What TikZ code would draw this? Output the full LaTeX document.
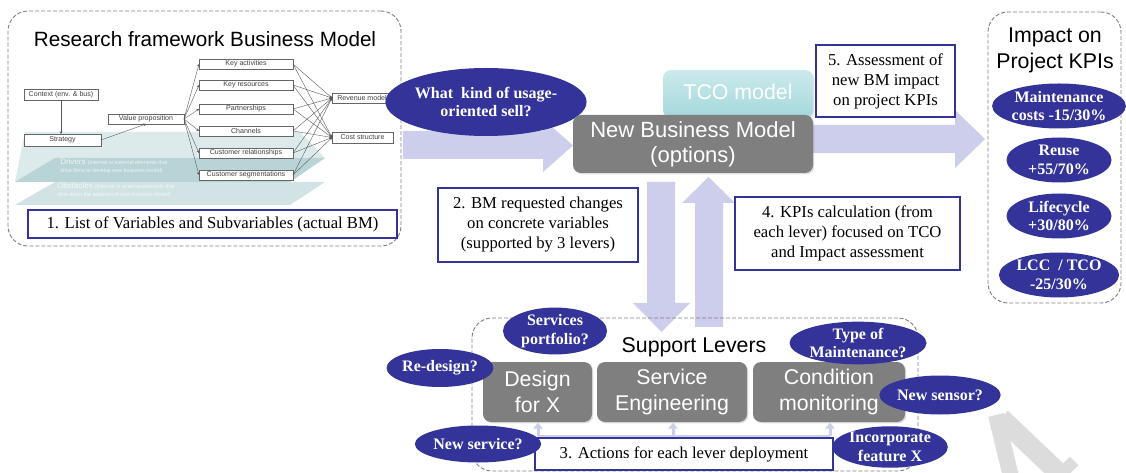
\documentclass[tikz,border=0pt]{standalone}
\usepackage{fontspec}
\setmainfont{Liberation Serif}
\setsansfont{Liberation Sans}
\usetikzlibrary{shapes.geometric,fit,arrows.meta,shadows}
\newdimen\pxu \pxu=0.75pt
\definecolor{navy}{HTML}{333399}
\definecolor{lav}{HTML}{CDCDEC}
\definecolor{gboxc}{HTML}{7F7F7F}
\definecolor{teal1}{HTML}{A3D8DB}
\definecolor{planec}{HTML}{8DB9BC}
\definecolor{wm}{HTML}{DCDCDC}
\begin{document}
\begin{tikzpicture}[x=0.75pt,y=-0.75pt,
 fitbox/.style={inner sep=0pt, outer sep=0pt},
 sz/.style 2 args={inner sep=0pt, outer sep=0pt, minimum width=#1\pxu, minimum height=#2\pxu},
 dframe/.style={fitbox, draw=gray, dash pattern=on 3pt off 1.5pt, line width=0.7pt, rounded corners=15pt},
 txtbox/.style={draw=navy, line width=1pt, fill=white, align=center, font=\fontsize{12.5}{15}\selectfont},
 graybox/.style={fill=gboxc, rounded corners=6pt, text=white, align=center, font=\sffamily\fontsize{16}{20}\selectfont, drop shadow={opacity=0.25, shadow xshift=1pt, shadow yshift=-1pt}},
 q/.style={ellipse, fill=navy, text=white, inner sep=0pt, align=center, font=\bfseries\fontsize{12}{14}\selectfont},
 bm/.style={draw=black!60, line width=0.35pt, fill=white, text=black!75, font=\sffamily\fontsize{5.3}{6}\selectfont},
 bmline/.style={draw=black!65, line width=0.3pt, -{Stealth[length=2pt,width=2pt]}},
 bigarrow/.style={fill=lav},
 ttl/.style={font=\sffamily\fontsize{16}{19.5}\selectfont, align=center, text=black},
 plnote/.style={anchor=base west, inner sep=0pt, text=white, opacity=0.75}
]
\useasboundingbox (0,0) rectangle (1126,473);

% watermark fragment
\begin{scope}
\clip (0,0) rectangle (1126,473);
\draw[wm, line width=16\pxu] (996,415) -- (1013,485);
\draw[wm, line width=20\pxu] (1001,418) -- (1064,478);
\draw[wm, line width=12\pxu] (1074,461) -- (1055,480);
\end{scope}

% ---------- left frame ----------
\node[dframe, fit={(8,11)(401,246)}] (rf) {};
\node[ttl, anchor=base, font=\sffamily\fontsize{15.5}{18}\selectfont] (rftitle) at (205,47) {Research framework Business Model};

% planes
\fill[planec, opacity=0.3] (25,132) -- (300,132) -- (325,158) -- (290,182) -- (15,182) -- cycle;
\fill[planec, opacity=0.45] (55,158) -- (325,158) -- (290,182) -- (15,182) -- cycle;
\fill[planec, opacity=0.4] (55,182) -- (325,182) -- (290,205) -- (15,205) -- cycle;
\node[plnote] (drv1) at (60,165) {\sffamily\fontsize{6}{7}\selectfont Drivers \fontsize{4}{5}\selectfont (internal or external elements that};
\node[plnote] (drv2) at (60,173) {\sffamily\fontsize{4}{5}\selectfont drive firms to develop new business model)};
\node[plnote] (obs1) at (57,189) {\sffamily\fontsize{6}{7}\selectfont Obstacles \fontsize{4}{5}\selectfont (internal or external elements that};
\node[plnote] (obs2) at (57,197) {\sffamily\fontsize{4}{5}\selectfont slow down the adoption of new business model)};

% BM boxes
\node[bm, sz={74}{11}] (ctx) at (61,94.5) {Context (env. \& bus)};
\node[bm, sz={77}{12}] (str) at (62.5,140) {Strategy};
\node[bm, sz={76}{10}] (vp) at (146,119) {Value proposition};
\node[bm, sz={94}{10}] (ka) at (246,64) {Key activities};
\node[bm, sz={94}{10}] (kr) at (246,85) {Key resources};
\node[bm, sz={94}{10}] (pa) at (246,109) {Partnerships};
\node[bm, sz={94}{10}] (ch) at (246,131) {Channels};
\node[bm, sz={94}{10}] (cr) at (246,153) {Customer relationships};
\node[bm, sz={94}{10}] (cs) at (246,175) {Customer segmentations};
\node[bm, sz={60}{10}] (rm) at (362,98) {Revenue model};
\node[bm, sz={61}{11}] (cst) at (362.5,137.5) {Cost structure};
\draw[bmline] (ctx.south) -- (ctx.south |- str.north);
\draw[bmline] (str.east) -- (vp.south);
\foreach \b in {ka,kr,pa,ch,cr,cs}{
  \draw[bmline] (vp.east) -- (\b.west);
  \draw[bmline] (\b.east) -- (rm.west);
  \draw[bmline] (\b.east) -- (cst.west);
}
\node[txtbox, sz={369}{28}] (b1) at (212.5,224) {1. List of Variables and Subvariables (actual BM)};

% ---------- big arrows ----------
\fill[bigarrow] (403,131) -- (543,131) -- (543,119) -- (573,145.5) -- (543,172) -- (543,159) -- (403,159) -- cycle;
\fill[bigarrow] (813,125) -- (955,125) -- (955,110) -- (985,139) -- (955,168) -- (955,153) -- (813,153) -- cycle;
\fill[bigarrow] (647,182) -- (675,182) -- (675,303) -- (690,303) -- (661.5,332) -- (633,303) -- (647,303) -- cycle;
\fill[bigarrow] (695,327) -- (723,327) -- (723,203) -- (735,203) -- (708.5,177) -- (682,203) -- (695,203) -- cycle;

% ---------- centre ----------
\node[q, minimum width=158\pxu, minimum height=68\pxu] (q1) at (486,102) {What\ \ kind of usage-\\oriented sell?};
\node[sz={150}{48}, rounded corners=6pt, top color=teal1!55!white, bottom color=teal1, text=white, font=\sffamily\fontsize{16}{19}\selectfont, drop shadow={opacity=0.2, shadow xshift=1pt, shadow yshift=-1pt}] (tco) at (738,94) {\raisebox{3pt}{TCO model}};
\node[graybox, sz={240}{58}, font=\sffamily\fontsize{16.5}{19}\selectfont] (nbm) at (693,144) {New Business Model\\(options)};
\node[txtbox, sz={139}{72}] (b5) at (885.5,81) {5. Assessment of\\new BM impact\\on project KPIs};
\node[txtbox, sz={200}{74}] (b2) at (538,225) {2. BM requested changes\\on concrete variables\\(supported by 3 levers)};
\node[txtbox, sz={225}{73}] (b4) at (847.5,233.5) {4. KPIs calculation (from\\each lever) focused on TCO\\and Impact assessment};

% ---------- impact ----------
\node[dframe, fit={(988,12)(1121,303)}] (imp) {};
\node[ttl] (imptitle) at (1055,50) {Impact on\\Project KPIs};
\node[q, minimum width=105\pxu, minimum height=45\pxu] (k1) at (1059,106) {Maintenance\\costs -15/30\%};
\node[q, minimum width=105\pxu, minimum height=45\pxu] (k2) at (1059,160) {Reuse\\+55/70\%};
\node[q, minimum width=105\pxu, minimum height=45\pxu] (k3) at (1059,216) {Lifecycle\\+30/80\%};
\node[q, minimum width=105\pxu, minimum height=45\pxu] (k4) at (1059,275) {LCC\ \ / TCO\\-25/30\%};

% ---------- support levers ----------
\node[dframe, fit={(472,318)(918,471)}] (sl) {};
\node[ttl, anchor=base] (sltitle) at (694,353) {Support Levers};
\node[graybox, sz={109}{60}] (dfx) at (537.5,392) {Design\\for X};
\node[graybox, sz={150}{60}] (se) at (672,392) {Service\\Engineering};
\node[graybox, sz={152}{60}] (cm) at (829,392) {Condition\\monitoring};
\coordinate (a1) at (538,436);
\coordinate (a2) at (673,436);
\coordinate (a3) at (830,436);
\draw[lav, line width=3\pxu] (a1) -- (a3);
\foreach \c in {a1,a2,a3}{
  \draw[lav, line width=3\pxu, -{Triangle[length=4.5pt,width=7pt]}] (\c) -- ([yshift=-0.5pt]\c |- dfx.south);
}
\node[txtbox, sz={298}{32}] (b3) at (684,454) {3. Actions for each lever deployment};

\node[q, minimum width=104\pxu, minimum height=37\pxu] (e1) at (555,331) {Services\\portfolio?};
\node[q, minimum width=105\pxu, minimum height=38\pxu] (e2) at (440,368) {Re-design?};
\node[q, minimum width=103\pxu, minimum height=37\pxu] (e3) at (478,444) {New service?};
\node[q, minimum width=123\pxu, minimum height=40\pxu] (e4) at (858,343) {Type of\\Maintenance?};
\node[q, minimum width=105\pxu, minimum height=39\pxu] (e5) at (940,395) {New sensor?};
\node[q, minimum width=105\pxu, minimum height=39\pxu] (e6) at (890,447) {Incorporate\\feature X};
\end{tikzpicture}
\end{document}
